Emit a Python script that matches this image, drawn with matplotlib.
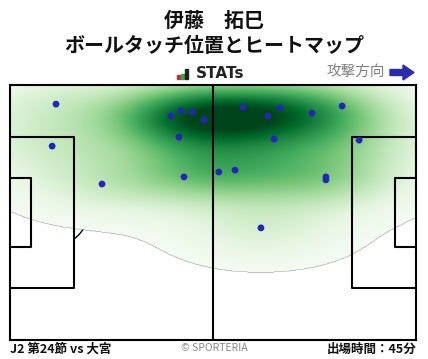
import matplotlib
matplotlib.use("Agg")
import matplotlib.pyplot as plt
import numpy as np
from matplotlib.patches import Arc, Polygon, Rectangle

plt.rcParams["font.family"] = ["Noto Sans CJK JP", "DejaVu Sans"]

W, H = 428, 359
PITCH_X, PITCH_Y = 105.0, 68.0
LOWEST = 0.02  # fraction of peak density left unshaded

# ball touches (metres, x left->right, y measured from the top touchline)
touch_x = [11.9, 10.9, 23.8, 41.6, 44.2, 47.1, 50.2, 43.7, 45.0, 54.0, 60.3,
           66.7, 69.8, 78.1, 85.9, 68.3, 90.3, 58.2, 81.7, 81.7, 64.9]
touch_y = [5.1, 16.3, 26.4, 8.3, 6.9, 7.2, 9.3, 13.9, 24.5, 23.2, 5.9,
           8.3, 6.1, 7.5, 5.6, 14.4, 14.7, 22.7, 24.5, 25.3, 38.1]

player = "伊藤　拓巳"
subtitle = "ボールタッチ位置とヒートマップ"
match_label = "J2 第24節 vs 大宮"
minutes_label = "出場時間：45分"


def fx(px):
    return px / W


def fy(py):
    return 1 - py / H


def kde_grid(xs, ys, gx, gy):
    """Product gaussian kernel, normal-reference bandwidth per axis."""
    xs, ys = np.asarray(xs), np.asarray(ys)
    n = len(xs)
    bx = 1.06 * xs.std(ddof=1) * n ** (-1 / 6)
    by = 1.06 * ys.std(ddof=1) * n ** (-1 / 6)
    kx = np.exp(-0.5 * ((gx[None, :] - xs[:, None]) / bx) ** 2)
    ky = np.exp(-0.5 * ((gy[None, :] - ys[:, None]) / by) ** 2)
    return ky.T @ kx / (2 * np.pi * bx * by * n)


fig = plt.figure(figsize=(W / 100, H / 100), dpi=100)
ax = fig.add_axes([fx(10), fy(340), fx(406), 255 / H])
ax.set_xticks([])
ax.set_yticks([])
for s in ax.spines.values():
    s.set_linewidth(1.5)
    s.set_color("black")
    s.set_zorder(10)

gx = np.linspace(0, PITCH_X, 600)
gy = np.linspace(0, PITCH_Y, 400)
dens = kde_grid(touch_x, touch_y, gx, gy)
thresh = dens.max() * LOWEST
masked = np.ma.masked_less(dens, thresh)
ax.imshow(masked, cmap="Greens", vmin=0, vmax=dens.max() * 0.92,
          extent=[gx[0], gx[-1], gy[0], gy[-1]], origin="lower",
          interpolation="bilinear", aspect="auto", zorder=2)
ax.set_xlim(0, PITCH_X)
ax.set_ylim(PITCH_Y, 0)

# penalty arcs sit below the heatmap
for cx, a1, a2 in [(11.0, -53, 53), (PITCH_X - 11.0, 127, 233)]:
    ax.add_patch(Arc((cx, PITCH_Y / 2), 18.3, 18.3 * (255 / 68) / (406 / 105),
                     theta1=a1, theta2=a2, lw=1.0, color="black", zorder=1))

# pitch markings
lw = 1.5
ax.plot([PITCH_X / 2, PITCH_X / 2], [0, PITCH_Y], color="black", lw=lw, zorder=5)
box_top, box_bot = 13.84, 54.16
six_top, six_bot = 24.84, 43.16
ax.plot([0, 16.5, 16.5, 0], [box_top, box_top, box_bot, box_bot], color="black", lw=lw, zorder=5)
ax.plot([0, 5.5, 5.5, 0], [six_top, six_top, six_bot, six_bot], color="black", lw=lw, zorder=5)
ax.plot([PITCH_X, PITCH_X - 16.5, PITCH_X - 16.5, PITCH_X],
        [box_top, box_top, box_bot, box_bot], color="black", lw=lw, zorder=5)
ax.plot([PITCH_X, PITCH_X - 5.5, PITCH_X - 5.5, PITCH_X],
        [six_top, six_top, six_bot, six_bot], color="black", lw=lw, zorder=5)

ax.scatter(touch_x, touch_y, s=24, color="#2626b6", edgecolors="none", zorder=6)

# header
fig.text(0.5, fy(20), player, ha="center", va="center", fontsize=14.4,
         fontweight="bold", color="#111111")
fig.text(0.5, fy(46), subtitle, ha="center", va="center", fontsize=14.4,
         fontweight="bold", color="#111111")

for (x0, y0, x1, c) in [(177, 75, 180, "#d42a2a"), (181, 74, 184, "#2aa84a"),
                        (185, 69, 188, "#222222")]:
    fig.patches.append(Rectangle((fx(x0), fy(79)), (x1 - x0) / W, (79 - y0) / H,
                                 transform=fig.transFigure, color=c))
fig.text(fx(196), fy(74), "STATs", ha="left", va="center", fontsize=11,
         fontweight="bold", color="#222222", family="DejaVu Sans")

fig.text(fx(385), fy(72), "攻撃方向", ha="right", va="center", fontsize=10.5,
         color="#808080")
arrow = [(390, 69.5), (403, 69.5), (403, 65), (414, 72.5), (403, 80),
         (403, 75.5), (390, 75.5)]
fig.patches.append(Polygon([(fx(px), fy(py)) for px, py in arrow], closed=True,
                           transform=fig.transFigure, color="#2b2bb0"))

# footer
fig.text(fx(10), fy(349), match_label, ha="left", va="center", fontsize=9,
         fontweight="bold", color="#111111")
fig.text(fx(214), fy(348), "© SPORTERIA", ha="center", va="center", fontsize=7.5,
         color="#888888")
fig.text(fx(416), fy(349), minutes_label, ha="right", va="center", fontsize=9,
         fontweight="bold", color="#111111")

fig.savefig("out.png", dpi=100)
